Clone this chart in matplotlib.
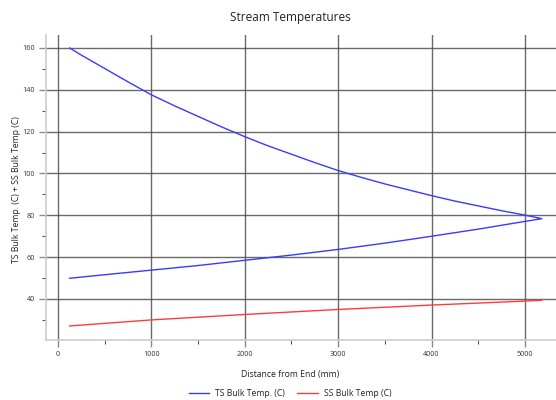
import matplotlib
matplotlib.use("Agg")
import matplotlib.pyplot as plt
from matplotlib.ticker import MultipleLocator

plt.rcParams['font.family'] = ['Open Sans', 'DejaVu Sans']

# TS bulk temperature (upper branch out to the tip, lower branch back)
ts_x = [125, 250, 500, 750, 1000, 1250, 1500, 1750, 2000, 2250, 2500, 2750, 3000,
        3250, 3500, 3750, 4000, 4250, 4500, 4750, 5000, 5180,
        5000, 4500, 4000, 3500, 3000, 2500, 2000, 1500, 1000, 500, 125]
ts_y = [160.0, 156.6, 150.2, 143.8, 137.6, 132.3, 127.3, 122.3, 117.6, 113.2, 109.2, 105.2, 101.4,
        98.1, 95.0, 92.2, 89.4, 86.8, 84.5, 82.2, 80.1, 78.4,
        77.1, 73.4, 70.0, 66.7, 63.7, 61.0, 58.5, 56.0, 53.8, 51.6, 49.9]

# SS bulk temperature
ss_x = [125, 1000, 2000, 3000, 4000, 5000, 5180]
ss_y = [27.1, 30.0, 32.6, 35.0, 37.1, 39.0, 39.4]

title = "Stream Temperatures"
xlabel = "Distance from End (mm)"
ylabel = "TS Bulk Temp. (C) + SS Bulk Temp (C)"
ts_label = "TS Bulk Temp. (C)"
ss_label = "SS Bulk Temp (C)"

fig = plt.figure(figsize=(5.56, 4.0), dpi=100)
ax = fig.add_axes([46/556, 60/400, 1 - 46/556, (340 - 35)/400])

ax.plot(ts_x, ts_y, color='#3a3aff', lw=1.0, label=ts_label)
ax.plot(ss_x, ss_y, color='#ff3a3a', lw=1.0, label=ss_label)

ax.set_xlim(-128, 5332)
ax.set_ylim(20.4, 166.2)
ax.xaxis.set_major_locator(MultipleLocator(1000))
ax.xaxis.set_minor_locator(MultipleLocator(500))
ax.yaxis.set_major_locator(MultipleLocator(20))
ax.yaxis.set_minor_locator(MultipleLocator(10))

ax.grid(True, which='major', color='#505050', lw=1.0, alpha=0.85)
ax.tick_params(which='major', length=5, width=1.0, color='#8a8a8a', labelsize=5.2,
               labelcolor='#333333', pad=3)
ax.tick_params(which='minor', length=3, width=0.8, color='#555555')

for s in ['top', 'right']:
    ax.spines[s].set_visible(False)
for s in ['left', 'bottom']:
    ax.spines[s].set_color('#cccccc')
    ax.spines[s].set_linewidth(1.2)

fig.text(290/556, 1 - 17/400, title, ha='center', va='center', fontsize=8.5, color='#222222')
fig.text(290/556, 1 - 375/400, xlabel, ha='center', va='center', fontsize=6.2, color='#222222')
fig.text(17/556, 1 - 190/400, ylabel, ha='center', va='center', rotation=90, fontsize=6.2, color='#222222')

fig.legend(loc='center', bbox_to_anchor=(290/556, 1 - 394/400), ncol=2, frameon=False,
           fontsize=6.2, handlelength=2.4, handletextpad=0.7, columnspacing=1.4,
           labelcolor='#222222')

fig.savefig('out.png', dpi=100)
